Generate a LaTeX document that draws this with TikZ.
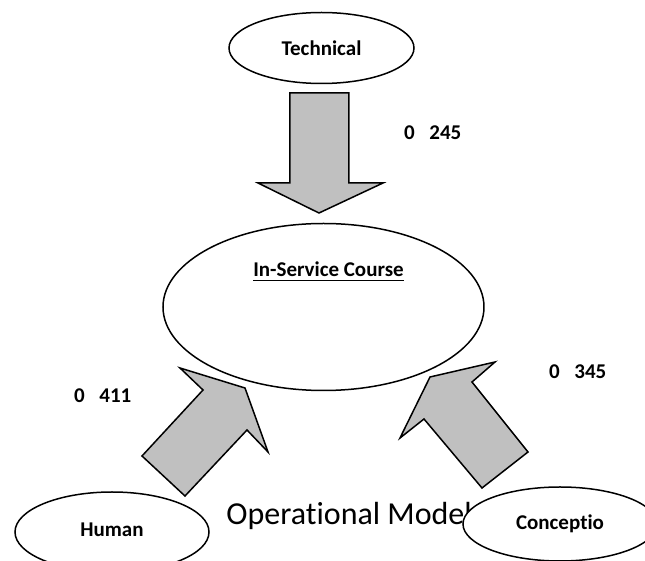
\documentclass[tikz,border=0pt]{standalone}
\usepackage{fontspec}
\setmainfont{Carlito}[Ligatures=NoCommon]
\usepackage{xcolor}
\usetikzlibrary{shapes.geometric}
\definecolor{arrowgray}{RGB}{192,192,192}
\tikzset{
  topic/.style={ellipse, draw, line width=0.75pt, fill=white, inner sep=0pt,
    font=\fontsize{10.5}{12}\selectfont\bfseries},
  blockarrow/.style={draw, line width=0.75pt, fill=arrowgray, line join=miter},
  weight/.style={anchor=base west, font=\fontsize{10.5}{12}\selectfont\bfseries},
}

\begin{document}
\begin{tikzpicture}[x=0.5pt, y=-0.5pt]
    \useasboundingbox (0,0) rectangle (645,561);

    % block arrows
    \draw[blockarrow] (290,93) -- (349,93) -- (349,183) -- (383,183) -- (319,213)
        -- (258,183) -- (290,183) -- cycle;
    \draw[blockarrow] (185,496) -- (142,456) -- (203,390) -- (180,368) -- (245,388)
        -- (268,452) -- (247,430) -- cycle;
    \draw[blockarrow] (482,488) -- (528,452) -- (472,382) -- (495,362) -- (430,377)
        -- (400,438) -- (424,419) -- cycle;

    % weights
    \node[weight] (wtech) at (397,140) {0\hspace{0.7em}245};
    \node[weight] (whuman) at (67,403) {0\hspace{0.7em}411};
    \node[weight] (wconc) at (542,379) {0\hspace{0.7em}345};

    % centre
    \node[topic, minimum width=160.5pt, minimum height=83.5pt] (course) at (323.5,307) {};
    \node[anchor=base, font=\fontsize{10.5}{12}\selectfont\bfseries] (coursetext)
        at (328.5,277) {\underline{In-Service Course}};

    \node[topic, minimum width=92.5pt, minimum height=35.5pt] (technical) at (321.5,48) {Technical};
    \node[topic, minimum width=97pt, minimum height=40pt] (human) at (112,532) {\raisebox{2pt}{Human}};

    % title, partly hidden by the last ellipse
    \node[anchor=base west, inner sep=0pt, font=\fontsize{16}{19}\selectfont] (title)
        at (226,525) {Operational Model};
    \node[topic, minimum width=97pt, minimum height=37pt] (conception) at (560,524) {Conceptio};
\end{tikzpicture}
\end{document}
